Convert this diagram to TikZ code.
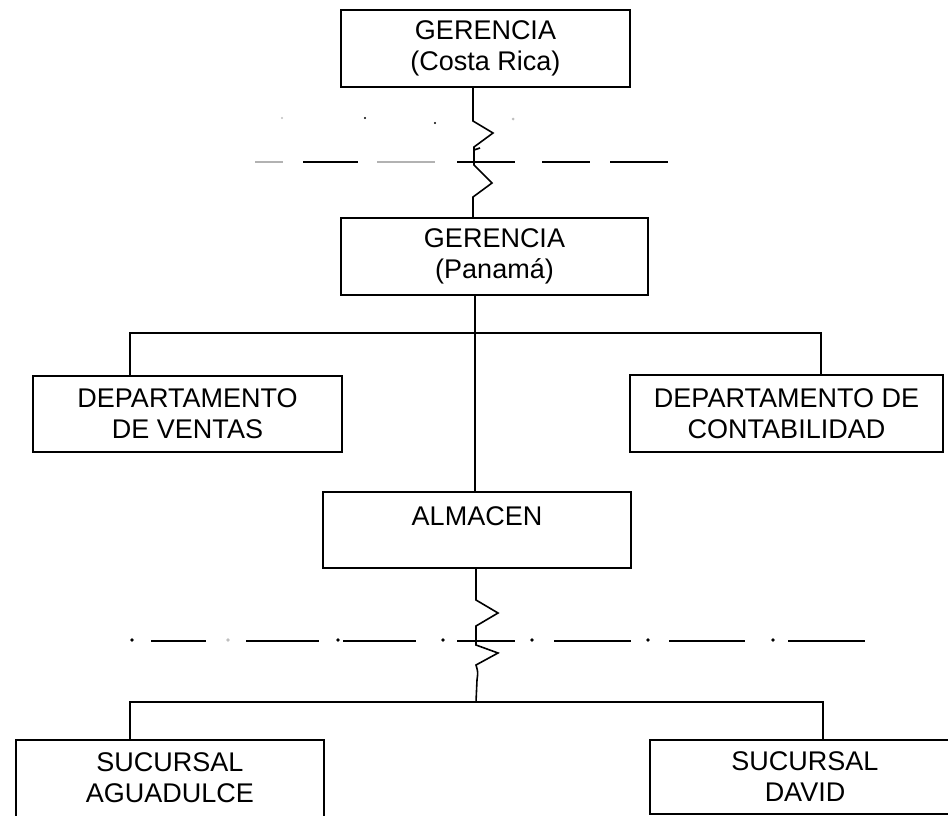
\documentclass[tikz,border=0pt]{standalone}
\usepackage{fontspec}
\setmainfont{Liberation Sans}
\begin{document}
\begin{tikzpicture}[x=0.5pt,y=-0.5pt,
  box/.style={draw, line width=0.8pt, inner sep=0pt, align=center,
    font=\fontsize{13.5}{15.5}\selectfont},
  conn/.style={line width=0.8pt, line join=miter},
  brk/.style={line width=0.8pt},
  brkg/.style={line width=0.8pt, gray!60}]
\useasboundingbox (0,0) rectangle (948,815);
\clip (0,0) rectangle (948,815);

% boxes
\node[box, minimum width=144.5pt, minimum height=38.5pt] (gcr) at (485.5,48.5) {GERENCIA\\(Costa Rica)};
\node[box, minimum width=153.5pt, minimum height=38.5pt] (gpa) at (494.5,256.5) {GERENCIA\\(Panamá)};
\node[box, minimum width=154.5pt, minimum height=38pt] (ven) at (187.5,414) {DEPARTAMENTO\\DE VENTAS};
\node[box, minimum width=156.5pt, minimum height=38.5pt] (con) at (786.5,413.5) {DEPARTAMENTO DE\\CONTABILIDAD};
\node[box, minimum width=154pt, minimum height=38pt] (alm) at (477,530) {ALMACEN\\[-6pt]\strut};
\node[box, minimum width=154pt, minimum height=42pt] (agu) at (170,782) {SUCURSAL\\AGUADULCE\\[-11pt]\mbox{}};
\node[box, minimum width=155pt, minimum height=37pt] (dav) at (805,777) {SUCURSAL\\DAVID};

% reference columns
\coordinate (c1) at (473,0);
\coordinate (c2) at (475,0);
\coordinate (c3) at (476,0);
\coordinate (l1) at (130,0);
\coordinate (r1) at (821,0);
\coordinate (r2) at (823,0);

% Costa Rica -> Panama with break
\draw[conn] (gcr.south -| c1) -- (473,121) -- (493,133) -- (474,147) -- (474,165)
  -- (492,183) -- (473,197) -- (gpa.north -| c1);
\draw[conn] (474,150) -- (480,148);

% Panama -> Almacen and departments
\draw[conn] (gpa.south -| c2) -- (alm.north -| c2);
\coordinate (h1) at (475,333);
\draw[conn] (ven.north -| l1) -- (l1 |- h1) -- (r1 |- h1) -- (con.north -| r1);

% Almacen -> branches with break
\coordinate (h2) at (476,702);
\draw[conn] (alm.south -| c3) -- (476,600) -- (498,613) -- (476,626) -- (476,645)
  -- (498,653) -- (476,665) .. controls (478,672) .. (477,680) -- (h2);
\draw[conn] (agu.north -| l1) -- (l1 |- h2) -- (r2 |- h2) -- (dav.north -| r2);

% upper broken line
\draw[brkg] (255,162) -- (283,162);
\draw[brk] (303,162) -- (358,162);
\draw[brkg] (377,162) -- (435,162);
\draw[brk] (457,162) -- (515,162);
\draw[brk] (542,162) -- (590,162);
\draw[brk] (610,162) -- (668,162);
\fill[gray!50] (282,118) circle (1.2);
\fill (365,118) circle (1.2);
\fill (435,123) circle (1.2);
\fill[gray!50] (513,119) circle (1.5);

% lower dash-dot line
\foreach \a/\b in {151/206, 246/319, 343/416, 457/515, 554/631, 669/745, 788/865}
  \draw[brk] (\a,641) -- (\b,641);
\foreach \d in {132, 338, 443, 532, 648, 773}
  \fill (\d,640) circle (1.8);
\fill[gray!50] (228,640) circle (1.8);
\end{tikzpicture}
\end{document}
